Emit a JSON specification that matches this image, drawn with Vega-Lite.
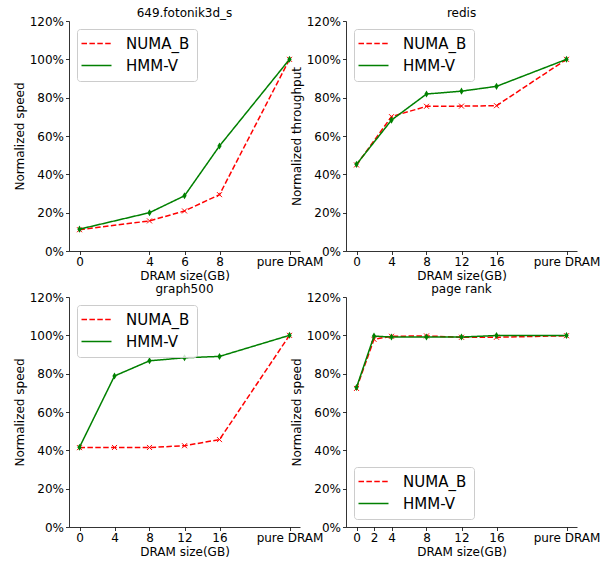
{
  "$schema": "https://vega.github.io/schema/vega-lite/v6.json",
  "background": "white",
  "padding": {"left": 13, "top": 7, "right": 2, "bottom": 0},
  "data": {"values": [
    {"panel": "fotonik", "series": "NUMA_B", "x": 0, "y": 11.1},
    {"panel": "fotonik", "series": "NUMA_B", "x": 4, "y": 15.7},
    {"panel": "fotonik", "series": "NUMA_B", "x": 6, "y": 20.9},
    {"panel": "fotonik", "series": "NUMA_B", "x": 8, "y": 29.4},
    {"panel": "fotonik", "series": "NUMA_B", "x": 12, "y": 100},
    {"panel": "fotonik", "series": "HMM-V", "x": 0, "y": 11.4},
    {"panel": "fotonik", "series": "HMM-V", "x": 4, "y": 20.0},
    {"panel": "fotonik", "series": "HMM-V", "x": 6, "y": 28.8},
    {"panel": "fotonik", "series": "HMM-V", "x": 8, "y": 54.8},
    {"panel": "fotonik", "series": "HMM-V", "x": 12, "y": 100},
    {"panel": "redis", "series": "NUMA_B", "x": 0, "y": 44.9},
    {"panel": "redis", "series": "NUMA_B", "x": 4, "y": 70.1},
    {"panel": "redis", "series": "NUMA_B", "x": 8, "y": 75.5},
    {"panel": "redis", "series": "NUMA_B", "x": 12, "y": 75.6},
    {"panel": "redis", "series": "NUMA_B", "x": 16, "y": 75.8},
    {"panel": "redis", "series": "NUMA_B", "x": 24, "y": 100},
    {"panel": "redis", "series": "HMM-V", "x": 0, "y": 45.2},
    {"panel": "redis", "series": "HMM-V", "x": 4, "y": 68.3},
    {"panel": "redis", "series": "HMM-V", "x": 8, "y": 81.9},
    {"panel": "redis", "series": "HMM-V", "x": 12, "y": 83.4},
    {"panel": "redis", "series": "HMM-V", "x": 16, "y": 85.9},
    {"panel": "redis", "series": "HMM-V", "x": 24, "y": 100},
    {"panel": "graph500", "series": "NUMA_B", "x": 0, "y": 41.4},
    {"panel": "graph500", "series": "NUMA_B", "x": 4, "y": 41.5},
    {"panel": "graph500", "series": "NUMA_B", "x": 8, "y": 41.5},
    {"panel": "graph500", "series": "NUMA_B", "x": 12, "y": 42.4},
    {"panel": "graph500", "series": "NUMA_B", "x": 16, "y": 45.6},
    {"panel": "graph500", "series": "NUMA_B", "x": 24, "y": 100},
    {"panel": "graph500", "series": "HMM-V", "x": 0, "y": 41.6},
    {"panel": "graph500", "series": "HMM-V", "x": 4, "y": 78.8},
    {"panel": "graph500", "series": "HMM-V", "x": 8, "y": 86.7},
    {"panel": "graph500", "series": "HMM-V", "x": 12, "y": 88.3},
    {"panel": "graph500", "series": "HMM-V", "x": 16, "y": 89.0},
    {"panel": "graph500", "series": "HMM-V", "x": 24, "y": 100},
    {"panel": "pagerank", "series": "NUMA_B", "x": 0, "y": 72.3},
    {"panel": "pagerank", "series": "NUMA_B", "x": 2, "y": 97.9},
    {"panel": "pagerank", "series": "NUMA_B", "x": 4, "y": 99.5},
    {"panel": "pagerank", "series": "NUMA_B", "x": 8, "y": 99.7},
    {"panel": "pagerank", "series": "NUMA_B", "x": 12, "y": 99.0},
    {"panel": "pagerank", "series": "NUMA_B", "x": 16, "y": 99.0},
    {"panel": "pagerank", "series": "NUMA_B", "x": 24, "y": 99.8},
    {"panel": "pagerank", "series": "HMM-V", "x": 0, "y": 72.8},
    {"panel": "pagerank", "series": "HMM-V", "x": 2, "y": 99.6},
    {"panel": "pagerank", "series": "HMM-V", "x": 4, "y": 99.1},
    {"panel": "pagerank", "series": "HMM-V", "x": 8, "y": 99.1},
    {"panel": "pagerank", "series": "HMM-V", "x": 12, "y": 99.1},
    {"panel": "pagerank", "series": "HMM-V", "x": 16, "y": 99.9},
    {"panel": "pagerank", "series": "HMM-V", "x": 24, "y": 99.9}
  ]},
  "columns": 2,
  "spacing": 46,
  "bounds": "flush",
  "resolve": {
    "scale": {"color": "independent", "strokeDash": "independent"},
    "legend": {"color": "independent", "strokeDash": "independent"}
  },
  "concat": [
    {
      "title": "649.fotonik3d_s",
      "width": 231, "height": 230,
      "transform": [{"filter": "datum.panel == 'fotonik'"}],
      "encoding": {
        "x": {"field": "x", "type": "quantitative", "scale": {"domain": [-0.6, 12.6], "nice": false, "zero": false},
              "axis": {"values": [0, 4, 6, 8, 12], "labelExpr": "datum.value == 12 ? 'pure DRAM' : datum.label", "title": "DRAM size(GB)"}},
        "y": {"field": "y", "type": "quantitative", "scale": {"domain": [0, 120], "nice": false},
              "axis": {"values": [0, 20, 40, 60, 80, 100, 120], "labelExpr": "datum.value + '%'", "title": "Normalized speed"}}
      },
      "layer": [
        {"transform": [{"filter": "datum.series == 'NUMA_B'"}], "mark": {"type": "line", "strokeWidth": 1.5},
         "encoding": {
           "color": {"field": "series", "type": "nominal", "scale": {"domain": ["NUMA_B", "HMM-V"], "range": ["#ff0000", "#008000"]}, "legend": {"title": null, "orient": "top-left"}},
           "strokeDash": {"field": "series", "type": "nominal", "scale": {"domain": ["NUMA_B", "HMM-V"], "range": [[5.5, 2.4], [1, 0]]}, "legend": {"title": null, "orient": "top-left"}}}},
        {"transform": [{"filter": "datum.series == 'NUMA_B'"}], "mark": {"type": "point", "shape": "M-1,-1L1,1M-1,1L1,-1", "size": 25, "color": "#ff0000", "filled": false, "strokeWidth": 1, "opacity": 1}},
        {"transform": [{"filter": "datum.series == 'HMM-V'"}], "mark": {"type": "line", "strokeWidth": 1.5},
         "encoding": {
           "color": {"field": "series", "type": "nominal", "scale": {"domain": ["NUMA_B", "HMM-V"], "range": ["#ff0000", "#008000"]}, "legend": {"title": null, "orient": "top-left"}},
           "strokeDash": {"field": "series", "type": "nominal", "scale": {"domain": ["NUMA_B", "HMM-V"], "range": [[5.5, 2.4], [1, 0]]}, "legend": {"title": null, "orient": "top-left"}}}},
        {"transform": [{"filter": "datum.series == 'HMM-V'"}], "mark": {"type": "point", "shape": "M0,-1L0.6,0L0,1L-0.6,0Z", "size": 50, "color": "#008000", "filled": true, "opacity": 1}}
      ]
    },
    {
      "title": "redis",
      "width": 231, "height": 230,
      "transform": [{"filter": "datum.panel == 'redis'"}],
      "encoding": {
        "x": {"field": "x", "type": "quantitative", "scale": {"domain": [-1.2, 25.2], "nice": false, "zero": false},
              "axis": {"values": [0, 4, 8, 12, 16, 24], "labelExpr": "datum.value == 24 ? 'pure DRAM' : datum.label", "title": "DRAM size(GB)"}},
        "y": {"field": "y", "type": "quantitative", "scale": {"domain": [0, 120], "nice": false},
              "axis": {"values": [0, 20, 40, 60, 80, 100, 120], "labelExpr": "datum.value + '%'", "title": "Normalized throughput"}}
      },
      "layer": [
        {"transform": [{"filter": "datum.series == 'NUMA_B'"}], "mark": {"type": "line", "strokeWidth": 1.5},
         "encoding": {
           "color": {"field": "series", "type": "nominal", "scale": {"domain": ["NUMA_B", "HMM-V"], "range": ["#ff0000", "#008000"]}, "legend": {"title": null, "orient": "top-left"}},
           "strokeDash": {"field": "series", "type": "nominal", "scale": {"domain": ["NUMA_B", "HMM-V"], "range": [[5.5, 2.4], [1, 0]]}, "legend": {"title": null, "orient": "top-left"}}}},
        {"transform": [{"filter": "datum.series == 'NUMA_B'"}], "mark": {"type": "point", "shape": "M-1,-1L1,1M-1,1L1,-1", "size": 25, "color": "#ff0000", "filled": false, "strokeWidth": 1, "opacity": 1}},
        {"transform": [{"filter": "datum.series == 'HMM-V'"}], "mark": {"type": "line", "strokeWidth": 1.5},
         "encoding": {
           "color": {"field": "series", "type": "nominal", "scale": {"domain": ["NUMA_B", "HMM-V"], "range": ["#ff0000", "#008000"]}, "legend": {"title": null, "orient": "top-left"}},
           "strokeDash": {"field": "series", "type": "nominal", "scale": {"domain": ["NUMA_B", "HMM-V"], "range": [[5.5, 2.4], [1, 0]]}, "legend": {"title": null, "orient": "top-left"}}}},
        {"transform": [{"filter": "datum.series == 'HMM-V'"}], "mark": {"type": "point", "shape": "M0,-1L0.6,0L0,1L-0.6,0Z", "size": 50, "color": "#008000", "filled": true, "opacity": 1}}
      ]
    },
    {
      "title": "graph500",
      "width": 231, "height": 230,
      "transform": [{"filter": "datum.panel == 'graph500'"}],
      "encoding": {
        "x": {"field": "x", "type": "quantitative", "scale": {"domain": [-1.2, 25.2], "nice": false, "zero": false},
              "axis": {"values": [0, 4, 8, 12, 16, 24], "labelExpr": "datum.value == 24 ? 'pure DRAM' : datum.label", "title": "DRAM size(GB)"}},
        "y": {"field": "y", "type": "quantitative", "scale": {"domain": [0, 120], "nice": false},
              "axis": {"values": [0, 20, 40, 60, 80, 100, 120], "labelExpr": "datum.value + '%'", "title": "Normalized speed"}}
      },
      "layer": [
        {"transform": [{"filter": "datum.series == 'NUMA_B'"}], "mark": {"type": "line", "strokeWidth": 1.5},
         "encoding": {
           "color": {"field": "series", "type": "nominal", "scale": {"domain": ["NUMA_B", "HMM-V"], "range": ["#ff0000", "#008000"]}, "legend": {"title": null, "orient": "top-left"}},
           "strokeDash": {"field": "series", "type": "nominal", "scale": {"domain": ["NUMA_B", "HMM-V"], "range": [[5.5, 2.4], [1, 0]]}, "legend": {"title": null, "orient": "top-left"}}}},
        {"transform": [{"filter": "datum.series == 'NUMA_B'"}], "mark": {"type": "point", "shape": "M-1,-1L1,1M-1,1L1,-1", "size": 25, "color": "#ff0000", "filled": false, "strokeWidth": 1, "opacity": 1}},
        {"transform": [{"filter": "datum.series == 'HMM-V'"}], "mark": {"type": "line", "strokeWidth": 1.5},
         "encoding": {
           "color": {"field": "series", "type": "nominal", "scale": {"domain": ["NUMA_B", "HMM-V"], "range": ["#ff0000", "#008000"]}, "legend": {"title": null, "orient": "top-left"}},
           "strokeDash": {"field": "series", "type": "nominal", "scale": {"domain": ["NUMA_B", "HMM-V"], "range": [[5.5, 2.4], [1, 0]]}, "legend": {"title": null, "orient": "top-left"}}}},
        {"transform": [{"filter": "datum.series == 'HMM-V'"}], "mark": {"type": "point", "shape": "M0,-1L0.6,0L0,1L-0.6,0Z", "size": 50, "color": "#008000", "filled": true, "opacity": 1}}
      ]
    },
    {
      "title": "page rank",
      "width": 231, "height": 230,
      "transform": [{"filter": "datum.panel == 'pagerank'"}],
      "encoding": {
        "x": {"field": "x", "type": "quantitative", "scale": {"domain": [-1.2, 25.2], "nice": false, "zero": false},
              "axis": {"values": [0, 2, 4, 8, 12, 16, 24], "labelExpr": "datum.value == 24 ? 'pure DRAM' : datum.label", "title": "DRAM size(GB)"}},
        "y": {"field": "y", "type": "quantitative", "scale": {"domain": [0, 120], "nice": false},
              "axis": {"values": [0, 20, 40, 60, 80, 100, 120], "labelExpr": "datum.value + '%'", "title": "Normalized speed"}}
      },
      "layer": [
        {"transform": [{"filter": "datum.series == 'NUMA_B'"}], "mark": {"type": "line", "strokeWidth": 1.5},
         "encoding": {
           "color": {"field": "series", "type": "nominal", "scale": {"domain": ["NUMA_B", "HMM-V"], "range": ["#ff0000", "#008000"]}, "legend": {"title": null, "orient": "bottom-left"}},
           "strokeDash": {"field": "series", "type": "nominal", "scale": {"domain": ["NUMA_B", "HMM-V"], "range": [[5.5, 2.4], [1, 0]]}, "legend": {"title": null, "orient": "bottom-left"}}}},
        {"transform": [{"filter": "datum.series == 'NUMA_B'"}], "mark": {"type": "point", "shape": "M-1,-1L1,1M-1,1L1,-1", "size": 25, "color": "#ff0000", "filled": false, "strokeWidth": 1, "opacity": 1}},
        {"transform": [{"filter": "datum.series == 'HMM-V'"}], "mark": {"type": "line", "strokeWidth": 1.5},
         "encoding": {
           "color": {"field": "series", "type": "nominal", "scale": {"domain": ["NUMA_B", "HMM-V"], "range": ["#ff0000", "#008000"]}, "legend": {"title": null, "orient": "bottom-left"}},
           "strokeDash": {"field": "series", "type": "nominal", "scale": {"domain": ["NUMA_B", "HMM-V"], "range": [[5.5, 2.4], [1, 0]]}, "legend": {"title": null, "orient": "bottom-left"}}}},
        {"transform": [{"filter": "datum.series == 'HMM-V'"}], "mark": {"type": "point", "shape": "M0,-1L0.6,0L0,1L-0.6,0Z", "size": 50, "color": "#008000", "filled": true, "opacity": 1}}
      ]
    }
  ],
  "config": {
    "font": "DejaVu Sans",
    "view": {"stroke": null},
    "axis": {
      "grid": false, "domainColor": "black", "domainWidth": 0.8, "tickColor": "black", "tickWidth": 0.8,
      "tickSize": 3.5, "labelPadding": 2, "labelFontSize": 12, "labelColor": "black",
      "titleFontSize": 12, "titleFontWeight": "normal", "titleColor": "black", "titlePadding": 3, "labelFont": "DejaVu Sans", "titleFont": "DejaVu Sans"
    },
    "title": {"fontSize": 12, "fontWeight": "normal", "font": "DejaVu Sans", "color": "black", "offset": -5},
    "legend": {
      "offset": 8, "padding": 7, "cornerRadius": 3, "strokeColor": "#cccccc", "fillColor": "rgba(255,255,255,0.8)",
      "labelFontSize": 15, "labelFont": "DejaVu Sans", "labelColor": "black", "labelOffset": 22,
      "symbolSize": 100, "symbolStrokeWidth": 1.5, "symbolType": "M-3,0L3,0", "symbolOffset": 5, "rowPadding": 6
    }
  }
}
